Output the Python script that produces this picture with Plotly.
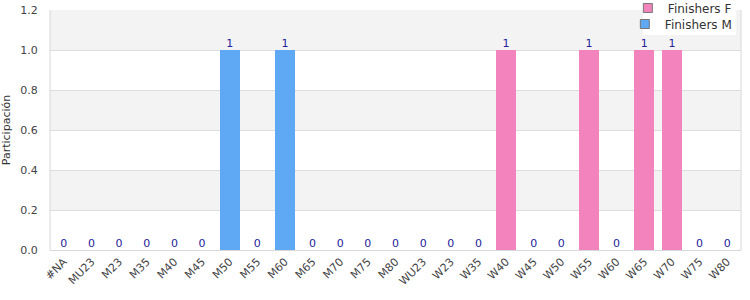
import plotly.graph_objects as go

categories = ["#NA", "MU23", "M23", "M35", "M40", "M45", "M50", "M55", "M60", "M65",
              "M70", "M75", "M80", "WU23", "W23", "W35", "W40", "W45", "W50", "W55",
              "W60", "W65", "W70", "W75", "W80"]
finishers_f = [0, 0, 0, 0, 0, 0, 0, 0, 0, 0, 0, 0, 0, 0, 0, 0, 1, 0, 0, 1, 0, 1, 1, 0, 0]
finishers_m = [0, 0, 0, 0, 0, 0, 1, 0, 1, 0, 0, 0, 0, 0, 0, 0, 0, 0, 0, 0, 0, 0, 0, 0, 0]
y_ticks = [0.0, 0.2, 0.4, 0.6, 0.8, 1.0, 1.2]
series_names = ["Finishers F", "Finishers M"]

totals = [f + m for f, m in zip(finishers_f, finishers_m)]

PINK = "#f383bd"
BLUE = "#5fa8f3"
FONT = "DejaVu Sans"

fig = go.Figure()
for name, vals, col in [(series_names[0], finishers_f, PINK), (series_names[1], finishers_m, BLUE)]:
    fig.add_trace(go.Bar(x=categories, y=vals, name=name, showlegend=False,
                         marker=dict(color=col, line=dict(width=0)), width=0.72))
fig.add_trace(go.Scatter(x=categories, y=totals, mode="text", text=[str(t) for t in totals],
                         textposition="top center", showlegend=False, hoverinfo="skip",
                         textfont=dict(family=FONT, size=11, color="#22229a")))
# legend entries with square swatches (one compact legend per series)
for name, col, lg in [(series_names[0], PINK, "legend"), (series_names[1], BLUE, "legend2")]:
    fig.add_trace(go.Scatter(x=[None], y=[None], mode="markers", name=name, legend=lg,
                             marker=dict(symbol="square", size=9, color=col,
                                         line=dict(color="#777", width=1))))

shapes = []
for i in range(len(y_ticks) - 1):
    if i % 2 == 1:
        shapes.append(dict(type="rect", xref="paper", yref="y", x0=0, x1=1,
                           y0=y_ticks[i], y1=y_ticks[i + 1], fillcolor="#f3f3f3",
                           line=dict(width=0), layer="below"))
shapes.append(dict(type="line", xref="paper", yref="paper", x0=0, x1=0, y0=0, y1=1,
                   line=dict(color="#d8d8d8", width=1)))
shapes.append(dict(type="line", xref="paper", yref="paper", x0=1, x1=1, y0=0, y1=1,
                   line=dict(color="#d8d8d8", width=1)))
# white legend background box
shapes.append(dict(type="rect", xref="paper", yref="paper", x0=0.858, x1=0.993,
                   y0=0.8958, y1=1.0417, fillcolor="white", line=dict(width=0),
                   layer="above"))

legend_common = dict(xref="paper", yref="container", x=0.994, xanchor="right",
                     yanchor="middle", bgcolor="rgba(0,0,0,0)",
                     font=dict(family=FONT, size=12, color="#333"),
                     itemwidth=30, borderwidth=0)

fig.update_layout(
    width=750, height=300,
    margin=dict(l=50, r=9, t=10, b=50, autoexpand=False),
    barmode="stack",
    plot_bgcolor="white", paper_bgcolor="white",
    font=dict(family=FONT, size=11, color="#444"),
    shapes=shapes,
    showlegend=True,
    legend=dict(y=1 - 8 / 300, **legend_common),
    legend2=dict(y=1 - 24 / 300, **legend_common),
    xaxis=dict(tickangle=-45, tickfont=dict(family=FONT, size=11, color="#444"),
               showline=True, linecolor="#d8d8d8", linewidth=1, ticks="",
               showgrid=False, range=[-0.5, len(categories) - 0.5]),
    yaxis=dict(range=[0, 1.2], tickvals=y_ticks, ticktext=[f"{v:.1f}" for v in y_ticks],
               showgrid=True, gridcolor="#dddddd", gridwidth=1, zeroline=False,
               ticks="outside", ticklen=9, tickcolor="rgba(0,0,0,0)",
               title=dict(text="Participación", font=dict(family=FONT, size=11, color="#333"),
                          standoff=12),
               tickfont=dict(family=FONT, size=11, color="#444")),
)

fig.write_html("out.html")
